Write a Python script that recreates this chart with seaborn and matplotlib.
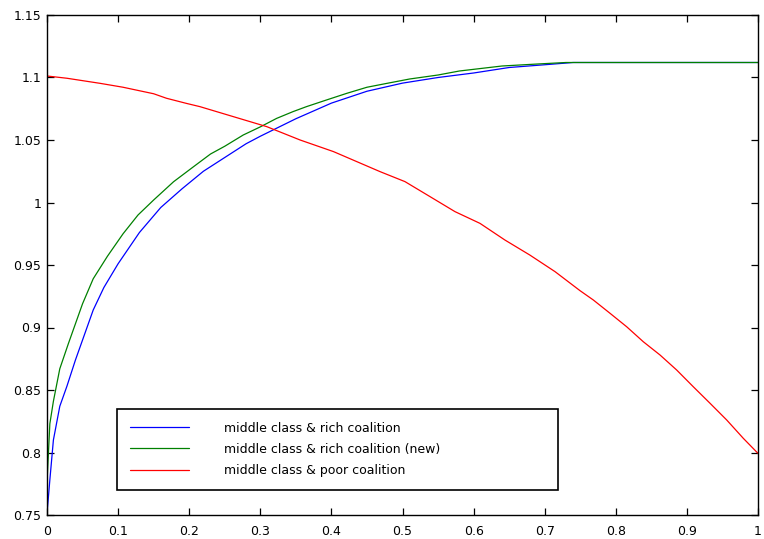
import numpy as np
import pandas as pd
import matplotlib
matplotlib.use("Agg")
import matplotlib.pyplot as plt
import seaborn as sns

# ---- data ----
blue_x = [0, 0.004, 0.009, 0.018, 0.028, 0.04, 0.05, 0.065, 0.08, 0.1, 0.13, 0.16, 0.19,
          0.22, 0.25, 0.28, 0.3, 0.35, 0.4, 0.45, 0.5, 0.55, 0.6, 0.65, 0.7, 0.74, 1.0]
blue_y = [0.751, 0.778, 0.81, 0.837, 0.853, 0.874, 0.89, 0.914, 0.932, 0.951, 0.976, 0.996, 1.011,
          1.025, 1.036, 1.047, 1.053, 1.067, 1.0795, 1.089, 1.0955, 1.100, 1.1036, 1.108, 1.1102, 1.112, 1.112]

green_x = [0, 0.004, 0.009, 0.018, 0.03, 0.04, 0.05, 0.065, 0.085, 0.107, 0.128, 0.15, 0.178,
           0.206, 0.23, 0.25, 0.276, 0.3, 0.323, 0.346, 0.365, 0.393, 0.422, 0.45, 0.478, 0.51,
           0.55, 0.58, 0.64, 0.69, 0.73, 1.0]
green_y = [0.776, 0.823, 0.841, 0.867, 0.887, 0.903, 0.919, 0.939, 0.957, 0.975, 0.99, 1.002, 1.0166,
           1.0286, 1.0388, 1.045, 1.054, 1.0605, 1.0673, 1.0727, 1.0767, 1.082, 1.0874, 1.0922, 1.0953, 1.0988,
           1.102, 1.1052, 1.1092, 1.1108, 1.112, 1.112]

red_x = [0, 0.028, 0.075, 0.107, 0.121, 0.15, 0.168, 0.196, 0.215, 0.262, 0.309, 0.356, 0.403,
         0.4684, 0.5035, 0.5387, 0.5738, 0.609, 0.644, 0.679, 0.7145, 0.7496, 0.7684, 0.7918,
         0.8153, 0.8387, 0.8622, 0.8856, 0.909, 0.9325, 0.956, 0.9794, 1.0]
red_y = [1.1012, 1.0994, 1.0953, 1.0922, 1.0905, 1.087, 1.0834, 1.0793, 1.0767, 1.0687, 1.0607, 1.05, 1.0407,
         1.0247, 1.0167, 1.0047, 0.9927, 0.9833, 0.97, 0.958, 0.9447, 0.9295, 0.922, 0.9114,
         0.9006, 0.8886, 0.878, 0.866, 0.8526, 0.8394, 0.826, 0.8113, 0.7993]

labels = ["middle class & rich coalition",
          "middle class & rich coalition (new)",
          "middle class & poor coalition"]

x_ticks = [0, 0.1, 0.2, 0.3, 0.4, 0.5, 0.6, 0.7, 0.8, 0.9, 1.0]
x_ticklabels = ["0", "0.1", "0.2", "0.3", "0.4", "0.5", "0.6", "0.7", "0.8", "0.9", "1"]
y_ticks = [0.75, 0.8, 0.85, 0.9, 0.95, 1.0, 1.05, 1.1, 1.15]
y_ticklabels = ["0.75", "0.8", "0.85", "0.9", "0.95", "1", "1.05", "1.1", "1.15"]

df = pd.concat([
    pd.DataFrame({"x": blue_x, "y": blue_y, "series": labels[0]}),
    pd.DataFrame({"x": green_x, "y": green_y, "series": labels[1]}),
    pd.DataFrame({"x": red_x, "y": red_y, "series": labels[2]}),
], ignore_index=True)

sns.set_style("ticks")
plt.rcParams["font.family"] = ["DejaVu Sans"]
plt.rcParams["text.color"] = "black"
plt.rcParams["xtick.color"] = "black"
plt.rcParams["ytick.color"] = "black"

fig = plt.figure(figsize=(7.64, 5.39), dpi=100)
ax = fig.add_axes([47 / 764, 1 - 515 / 539, 711 / 764, 500 / 539])

palette = {labels[0]: (0, 0, 1), labels[1]: (0, 0.5, 0), labels[2]: (1, 0, 0)}
sns.lineplot(data=df, x="x", y="y", hue="series", palette=palette, sort=False,
             estimator=None, linewidth=0.9, ax=ax)

ax.set_xlim(0, 1)
ax.set_ylim(0.75, 1.15)
ax.set_xticks(x_ticks)
ax.set_xticklabels(x_ticklabels)
ax.set_yticks(y_ticks)
ax.set_yticklabels(y_ticklabels)
ax.set_xlabel("")
ax.set_ylabel("")
for s in ax.spines.values():
    s.set_visible(True)
    s.set_color("black")
    s.set_linewidth(1.0)
ax.tick_params(direction="in", length=5, width=0.9, labelsize=9, colors="black",
               labelcolor="black", top=True, right=True)
ax.tick_params(axis="x", pad=7)
ax.tick_params(axis="y", pad=4)

leg = ax.legend(loc="lower left", bbox_to_anchor=(70 / 711, 25 / 500, 441 / 711, 83 / 500),
                mode="expand", borderaxespad=0, fancybox=False, frameon=True,
                fontsize=9, handlelength=4.7, handletextpad=2.8, labelspacing=0.65,
                borderpad=1.05, title=None, labelcolor="black")
leg.get_frame().set_edgecolor("black")
leg.get_frame().set_linewidth(1.2)
leg.get_frame().set_alpha(1)

fig.savefig("out.png", dpi=100)
